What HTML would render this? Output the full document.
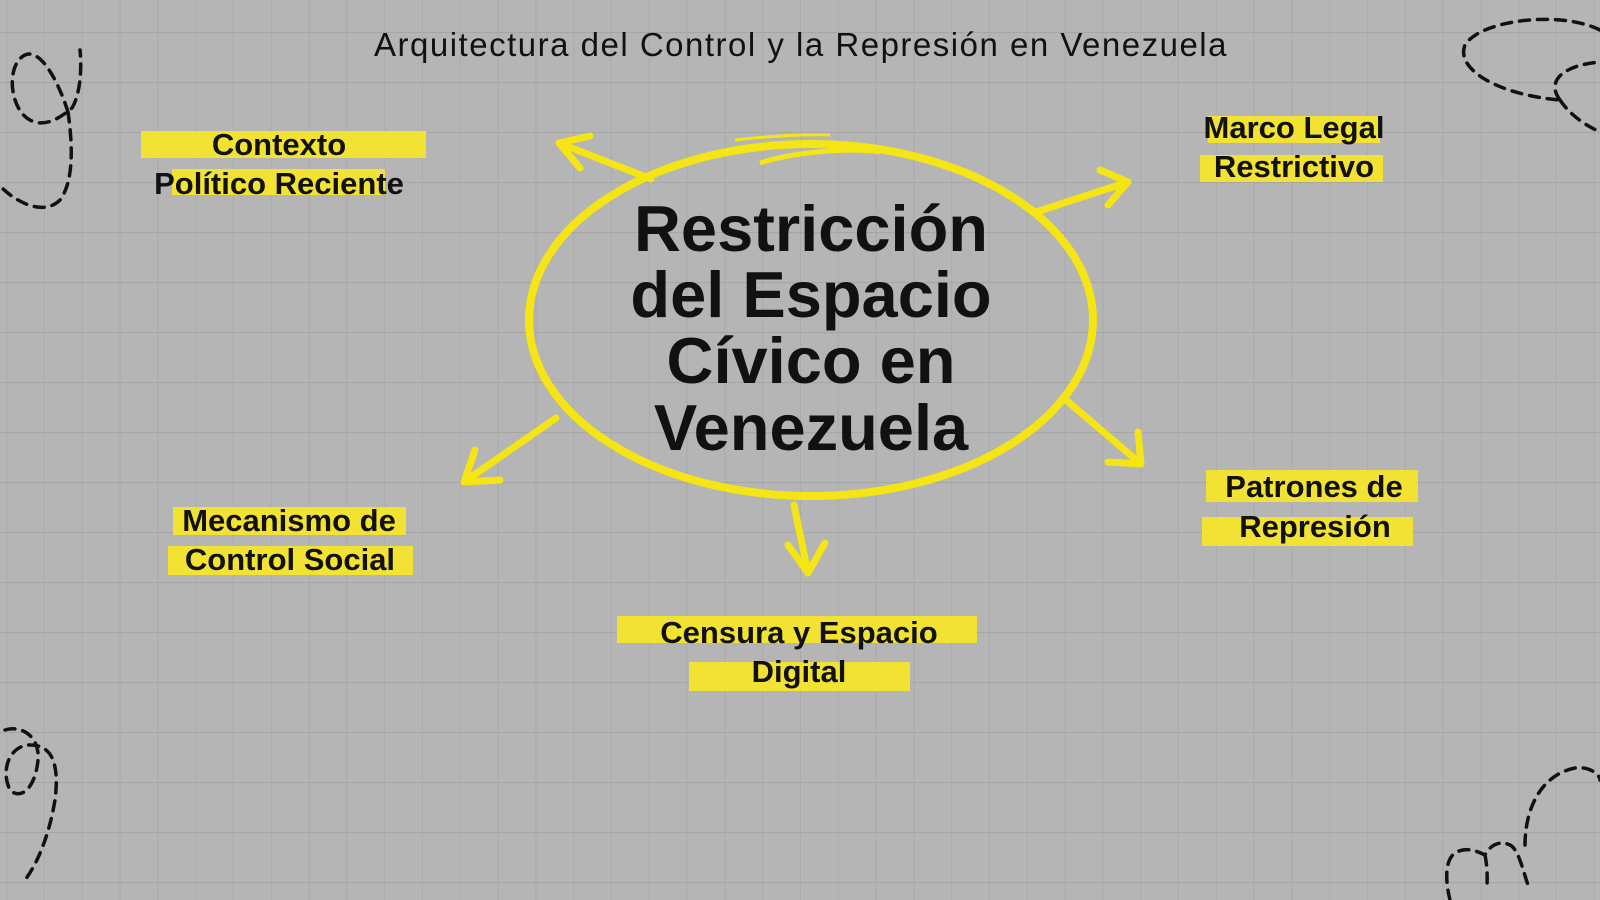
<!DOCTYPE html>
<html><head><meta charset="utf-8"><style>
html,body{margin:0;padding:0;width:1600px;height:900px;overflow:hidden;background:#b5b5b5}
svg{display:block}
text{font-family:"Liberation Sans",sans-serif;fill:#111}
</style></head><body>
<svg width="1600" height="900" viewBox="0 0 1600 900" xmlns="http://www.w3.org/2000/svg">
<defs>
<pattern id="gv" width="37.8" height="900" patternUnits="userSpaceOnUse" x="6.2" y="0">
<line x1="0.5" y1="0" x2="0.5" y2="900" stroke="#aaaaaa" stroke-width="1"/>
</pattern>
<pattern id="gh" width="1600" height="50" patternUnits="userSpaceOnUse" x="0" y="-18">
<line x1="0" y1="0.5" x2="1600" y2="0.5" stroke="#a6a6a6" stroke-width="1.2"/>
</pattern>
</defs>
<rect width="1600" height="900" fill="#b5b5b5"/>
<rect width="1600" height="900" fill="url(#gv)"/>
<rect width="1600" height="900" fill="url(#gh)"/>

<g fill="none" stroke="#111" stroke-width="3.5" stroke-dasharray="10 8" stroke-linecap="round">
<path d="M68,112 C58,80 40,48 25,55 C5,65 10,110 30,120 C45,128 60,118 72,108 C80,95 82,70 80,50 M68,112 C72,140 75,180 60,200 C45,215 20,205 2,188"/>
<path d="M1600,30 C1560,10 1480,20 1465,45 C1455,70 1500,95 1560,100 M1560,100 C1545,80 1565,65 1600,62 M1560,100 C1570,115 1585,125 1600,132"/>
<path d="M5,730 C20,725 40,735 38,760 C35,790 20,800 10,790 C0,770 10,745 30,745 C50,745 60,760 55,800 C50,830 40,860 25,880"/>
<path d="M1450,900 C1445,880 1445,860 1455,853 C1465,847 1475,850 1485,855 C1490,845 1500,840 1510,845 C1520,850 1525,880 1530,890 M1485,855 C1488,870 1487,880 1487,890 M1525,845 C1525,810 1540,775 1575,768 C1590,766 1600,775 1600,780"/>
</g>

<text x="801" y="56" font-size="33" text-anchor="middle" letter-spacing="1.5">Arquitectura del Control y la Represión en Venezuela</text>

<ellipse cx="811" cy="320" rx="282" ry="176" fill="none" stroke="#f5e514" stroke-width="8"/>
<path d="M760,163 C800,150 860,148 880,152" stroke="#f5e514" stroke-width="5" fill="none"/>
<path d="M735,140 C760,137 800,134 830,135" stroke="#f5e514" stroke-width="3" fill="none"/>

<g font-size="65" font-weight="bold" text-anchor="middle">
<text x="811" y="251">Restricción</text>
<text x="811" y="317">del Espacio</text>
<text x="811" y="383">Cívico en</text>
<text x="811" y="450">Venezuela</text>
</g>

<g stroke="#f5e514" stroke-width="7" fill="none" stroke-linecap="round" stroke-linejoin="round">
<path d="M651,179 L559,143 M559,143 L590,136 M559,143 L580,168"/>
<path d="M1036,212 L1128,182 M1128,182 L1100,170 M1128,182 L1108,205"/>
<path d="M556,418 L464,482 M464,482 L475,450 M464,482 L500,480"/>
<path d="M1066,400 L1141,464 M1141,464 L1138,432 M1141,464 L1108,462"/>
<path d="M794,505 L808,573 M808,573 L788,545 M808,573 L825,543"/>
</g>

<g fill="#f2e233">
<rect x="141" y="131" width="285" height="27"/>
<rect x="172" y="169" width="213" height="26"/>
<rect x="1208" y="116" width="172" height="27"/>
<rect x="1200" y="155" width="183" height="27"/>
<rect x="1206" y="470" width="212" height="32"/>
<rect x="1202" y="517" width="211" height="29"/>
<rect x="173" y="507" width="233" height="28"/>
<rect x="168" y="546" width="245" height="29"/>
<rect x="617" y="616" width="360" height="27"/>
<rect x="689" y="662" width="221" height="29"/>
</g>

<g font-size="31" font-weight="bold" text-anchor="middle">
<text x="279" y="155">Contexto</text>
<text x="279" y="194">Político Reciente</text>
<text x="1294" y="138">Marco Legal</text>
<text x="1294" y="177">Restrictivo</text>
<text x="1314" y="497">Patrones de</text>
<text x="1315" y="537">Represión</text>
<text x="289" y="531">Mecanismo de</text>
<text x="290" y="570">Control Social</text>
<text x="799" y="643">Censura y Espacio</text>
<text x="799" y="682">Digital</text>
</g>
</svg>
</body></html>
